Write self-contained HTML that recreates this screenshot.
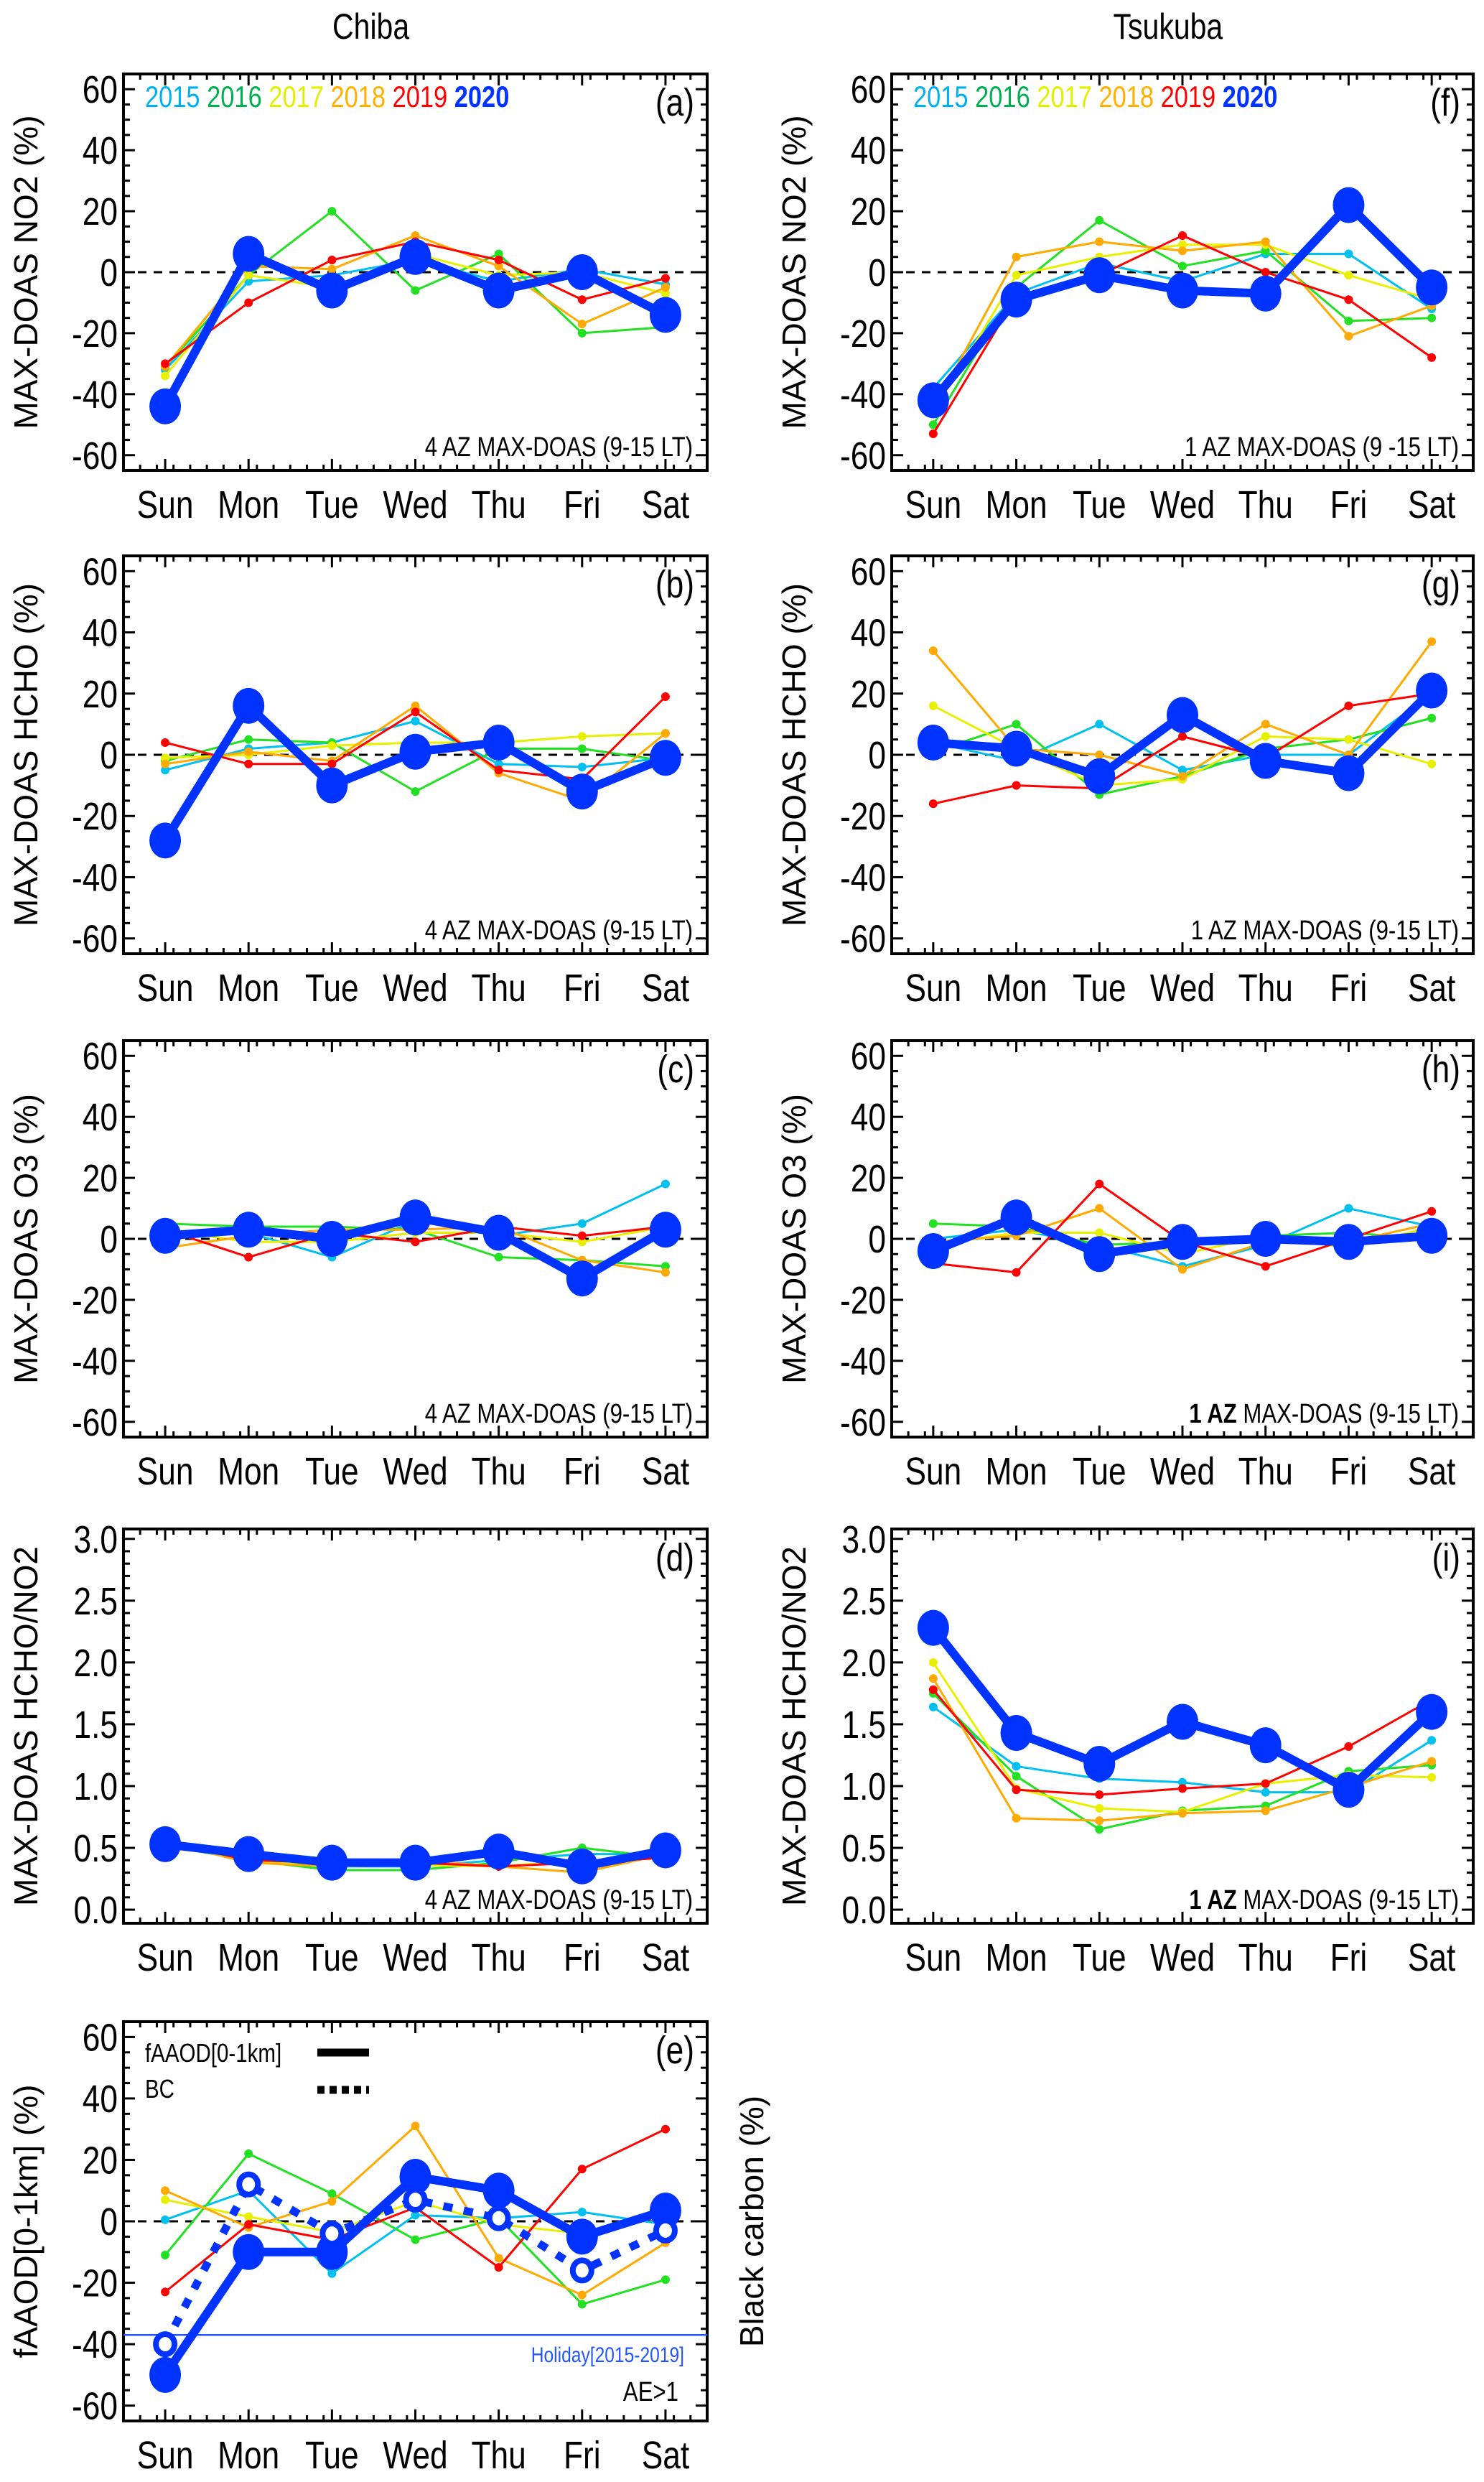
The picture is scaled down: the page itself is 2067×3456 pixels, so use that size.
<!DOCTYPE html>
<html><head><meta charset="utf-8"><style>
html,body{margin:0;padding:0;background:#fff}
svg{display:block}
text{font-family:"Liberation Sans",sans-serif}
</style></head><body>
<svg id="fig" xmlns="http://www.w3.org/2000/svg" width="2067" height="3456" viewBox="0 0 2067 3456">
<rect width="2067" height="3456" fill="#fff"/>
<text x="630" y="54" font-size="50" text-anchor="middle" transform="scale(0.82,1)">Chiba</text>
<text x="1984" y="54" font-size="50" text-anchor="middle" transform="scale(0.82,1)">Tsukuba</text>
</svg>
<script>
const days = ["Sun","Mon","Tue","Wed","Thu","Fri","Sat"];
const years = ["2015","2016","2017","2018","2019","2020"];
const yearColors = ["#00c0f0","#22e022","#e8f000","#ffaa00","#ff0000","#0033ff"];
const legendColors = ["#00b0f0","#00b050","#e0f000","#ffb000","#ff0000","#0033ff"];

const no2Chiba = [
 [-32,-3,-1,4,-3,1,-4],[-31,-1,20,-6,6,-20,-18],[-34,-1,-5,6,-1,0,-7],
 [-31,2,1,12,2,-17,-5],[-30,-10,4,10,4,-9,-2],[-44,6,-6,5,-6,0,-14]];
const no2Tsukuba = [
 [-38,-7,3,-3,6,6,-12],[-50,-5,17,2,7,-16,-15],[-46,-1,5,9,9,-1,-9],
 [-45,5,10,7,10,-21,-11],[-53,-8,-1,12,0,-9,-28],[-42,-9,-1,-6,-7,22,-5]];
const hchoChiba = [
 [-5,2,4,11,-3,-4,-1],[-2,5,4,-12,2,2,-2],[-1,0,3,4,4,6,7],
 [-3,1,-2,16,-6,-15,7],[4,-3,-3,14,-5,-8,19],[-28,16,-10,1,4,-12,-1]];
const hchoTsukuba = [
 [4,-2,10,-5,0,0,20],[1,10,-13,-7,2,5,12],[16,2,-10,-8,6,5,-3],
 [34,2,0,-7,10,0,37],[-16,-10,-11,6,-1,16,20],[4,2,-7,13,-2,-6,21]];
const o3Chiba = [
 [1,2,-6,6,1,5,18],[5,4,4,3,-6,-7,-9],[3,-1,-1,2,2,-1,4],
 [-3,1,3,3,4,-7,-11],[3,-6,2,-1,4,1,4],[1,3,0,7,2,-13,3]];
const o3Tsukuba = [
 [0,3,-2,-9,-2,10,4],[5,4,-2,-1,1,2,0],[-2,2,2,-5,1,-3,4],
 [-1,1,10,-10,-1,-1,5],[-8,-11,18,-1,-9,0,9],[-4,7,-5,-1,0,-1,1]];
const ratioChiba = [
 [0.55,0.42,0.35,0.35,0.40,0.45,0.45],[0.52,0.40,0.32,0.32,0.38,0.50,0.42],
 [0.55,0.40,0.35,0.36,0.35,0.40,0.42],[0.55,0.38,0.35,0.40,0.35,0.30,0.45],
 [0.55,0.40,0.38,0.38,0.35,0.38,0.42],[0.53,0.45,0.38,0.38,0.47,0.35,0.48]];
const ratioTsukuba = [
 [1.64,1.16,1.06,1.03,0.95,0.95,1.37],[1.75,1.08,0.65,0.80,0.84,1.12,1.17],
 [2.00,0.98,0.82,0.79,1.02,1.09,1.07],[1.87,0.74,0.72,0.78,0.80,0.99,1.20],
 [1.78,0.97,0.93,0.98,1.02,1.32,1.70],[2.28,1.43,1.18,1.52,1.33,0.97,1.60]];
const aaodChiba = [
 [0.5,10,-17,2,1,3,-1],[-11,22,9,-6,1,-27,-19],[7,1.5,-3.5,6.5,-1,-4,2],
 [10,-2,6.5,31,-12,-24,-7],[-23,-1,-6,4.5,-15,17,30],[-50,-10,-10,14.5,10,-5,3.5]];
const bcChiba = [-40,12,-4,7,1,-16,-3];
const holidayLevel = [-37];
const pctTicks = [-60,-40,-20,0,20,40,60];
const ratioTicks = ["0.0","0.5","1.0","1.5","2.0","2.5","3.0"];

const NS="http://www.w3.org/2000/svg";
const svg=document.getElementById('fig');
const SX=0.82;
function el(tag,attrs,parent){const e=document.createElementNS(NS,tag);for(const k in attrs)e.setAttribute(k,attrs[k]);(parent||svg).appendChild(e);return e;}
function ctext(x,y,size,anchor,parent){return el('text',{x:x/SX,y:y,'font-size':size,'text-anchor':anchor,transform:`scale(${SX},1)`},parent);}

const cols=[{x0:172,x1:985},{x0:1242,x1:2052}];
const rows=[{y0:103,y1:655},{y0:774,y1:1328},{y0:1449,y1:2001},{y0:2129,y1:2678},{y0:2815,y1:3371}];

function panel(opt){
  const c=cols[opt.col], r=rows[opt.row];
  const g=el('g',{});
  
  
  const w=c.x1-c.x0;
  const xs=i=>c.x0+(i+0.5)*w/7;
  const ys=v=>r.y1-(v-opt.ymin)/(opt.ymax-opt.ymin)*(r.y1-r.y0);
  const tg=el('g',{stroke:'#000','stroke-width':3},g);
  const minorStep=opt.ratio?0.1:5;
  for(let v=opt.tmin;v<=opt.tmax+1e-9;v+=minorStep){
    const isMaj=Math.abs((v/opt.major)-Math.round(v/opt.major))<1e-6;
    const L=isMaj?16:9;const y=ys(v);
    el('line',{x1:c.x0,x2:c.x0+L,y1:y,y2:y},tg);
    el('line',{x1:c.x1,x2:c.x1-L,y1:y,y2:y},tg);
  }
  for(let k=0;k<=35;k++){
    const x=c.x0+k*w/35;
    el('line',{x1:x,x2:x,y1:r.y1,y2:r.y1-8},tg);
    el('line',{x1:x,x2:x,y1:r.y0,y2:r.y0+8},tg);
  }
  for(let i=0;i<7;i++){
    el('line',{x1:xs(i),x2:xs(i),y1:r.y1,y2:r.y1-16},tg);
    el('line',{x1:xs(i),x2:xs(i),y1:r.y0,y2:r.y0+16},tg);
  }
  el('rect',{x:c.x0,y:r.y0,width:w,height:r.y1-r.y0,fill:'none',stroke:'#000','stroke-width':4},g);
  const labels=opt.ratio?ratioTicks:pctTicks;
  labels.forEach(l=>{
    const t=ctext(c.x0-8,ys(parseFloat(l))+19,54,'end',g);
    
    
    t.textContent=l;
  });
  days.forEach((d,i)=>{
    const t=ctext(xs(i),r.y1+66,54,'middle',g);
    
    
    t.textContent=d;
  });
  const yt=el('text',{x:0,y:0,'font-size':46,'text-anchor':'middle',transform:`translate(${c.x0-120},${(r.y0+r.y1)/2}) rotate(-90)`},g);
  
  
  yt.textContent=opt.ytitle;
  if(!opt.ratio){
    const z=el('line',{x1:c.x0+20,x2:c.x1,y1:ys(0),y2:ys(0),stroke:'#000','stroke-width':3,'stroke-dasharray':'12,10'},g);
    
    
  }
  if(opt.holiday){
    const h=el('line',{x1:c.x0,x2:c.x1,y1:ys(holidayLevel[0]),y2:ys(holidayLevel[0]),stroke:'#2255ff','stroke-width':2.5},g);
    
    
    const ht=ctext(c.x1-32,ys(holidayLevel[0])+38,30,'end',g);
    ht.setAttribute('fill','#2255ff');
    
    
    ht.textContent='Holiday[2015-2019]';
  }
  opt.data.forEach((s,k)=>{
    const sg=el('g',{},g);
    
    
    const big=k===5;
    const pts=s.map((v,i)=>xs(i)+','+ys(v)).join(' ');
    el('polyline',{points:pts,fill:'none',stroke:yearColors[k],'stroke-width':big?12:3,'stroke-linejoin':'round'},sg);
    s.forEach((v,i)=>{
      const m=el('ellipse',{cx:xs(i),cy:ys(v),rx:big?22:6,ry:big?25:6,fill:yearColors[k]},sg);
      
      
    });
  });
  if(opt.bc){
    const bg=el('g',{},g);
    
    
    el('polyline',{points:opt.bc.map((v,i)=>xs(i)+','+ys(v)).join(' '),fill:'none',stroke:'#0033ff','stroke-width':11,'stroke-dasharray':'13,16'},bg);
    opt.bc.forEach((v,i)=>{
      const m=el('ellipse',{cx:xs(i),cy:ys(v),rx:13,ry:14,fill:'#fff',stroke:'#0033ff','stroke-width':8},bg);
      
      
    });
  }
  const lt=ctext(c.x1-18,r.y0+58,54,'end',g);
  
  
  lt.textContent='('+opt.letter+')';
  if(opt.note){
    const nt=ctext(c.x1-20,r.y1-20,38,'end',g);
    
    
    if(opt.boldAZ){
      const b=el('tspan',{'font-weight':'bold'},nt);b.textContent='1 AZ';
      const t2=el('tspan',{},nt);t2.textContent=' MAX-DOAS (9-15 LT)';
    } else nt.textContent=opt.note;
  }
  if(opt.legend){
    const lg=ctext(c.x0+30,r.y0+46,42,'start',g);
    
    
    years.forEach((y,k)=>{
      const ts=el('tspan',{fill:legendColors[k],'font-weight':k===5?'bold':'normal'},lg);
      ts.textContent=(k?' ':'')+y;
    });
  }
  if(opt.aodLegend){
    const a=ctext(c.x0+30,r.y0+56,36,'start',g);
    a.textContent='fAAOD[0-1km]';
    el('line',{x1:c.x0+270,x2:c.x0+342,y1:r.y0+43,y2:r.y0+43,stroke:'#000','stroke-width':11},g);
    const b=ctext(c.x0+30,r.y0+106,36,'start',g);
    b.textContent='BC';
    el('line',{x1:c.x0+270,x2:c.x0+342,y1:r.y0+95,y2:r.y0+95,stroke:'#000','stroke-width':11,'stroke-dasharray':'10,7'},g);
    const ae=ctext(c.x1-40,r.y1-28,38,'end',g);
    ae.textContent='AE>1';
    const bt=el('text',{x:0,y:0,'font-size':46,'text-anchor':'middle',transform:`translate(${c.x1+78},${(r.y0+r.y1)/2}) rotate(-90)`},g);
    bt.textContent='Black carbon (%)';
  }
}
const P={ymin:-65,ymax:65,tmin:-60,tmax:60,major:20};
const R={ymin:-0.11,ymax:3.08,tmin:0,tmax:3.0,major:0.5,ratio:true};
panel({...P,col:0,row:0,letter:'a',data:no2Chiba,ytitle:'MAX-DOAS NO2 (%)',note:'4 AZ MAX-DOAS (9-15 LT)',legend:true});
panel({...P,col:1,row:0,letter:'f',data:no2Tsukuba,ytitle:'MAX-DOAS NO2 (%)',note:'1 AZ MAX-DOAS (9 -15 LT)',legend:true});
panel({...P,col:0,row:1,letter:'b',data:hchoChiba,ytitle:'MAX-DOAS HCHO (%)',note:'4 AZ MAX-DOAS (9-15 LT)'});
panel({...P,col:1,row:1,letter:'g',data:hchoTsukuba,ytitle:'MAX-DOAS HCHO (%)',note:'1 AZ MAX-DOAS (9-15 LT)'});
panel({...P,col:0,row:2,letter:'c',data:o3Chiba,ytitle:'MAX-DOAS O3 (%)',note:'4 AZ MAX-DOAS (9-15 LT)'});
panel({...P,col:1,row:2,letter:'h',data:o3Tsukuba,ytitle:'MAX-DOAS O3 (%)',note:'1 AZ',boldAZ:true});
panel({...R,col:0,row:3,letter:'d',data:ratioChiba,ytitle:'MAX-DOAS HCHO/NO2',note:'4 AZ MAX-DOAS (9-15 LT)'});
panel({...R,col:1,row:3,letter:'i',data:ratioTsukuba,ytitle:'MAX-DOAS HCHO/NO2',note:'1 AZ',boldAZ:true});
panel({...P,col:0,row:4,letter:'e',data:aaodChiba,bc:bcChiba,holiday:true,ytitle:'fAAOD[0-1km] (%)',aodLegend:true});
</script>
</body></html>
